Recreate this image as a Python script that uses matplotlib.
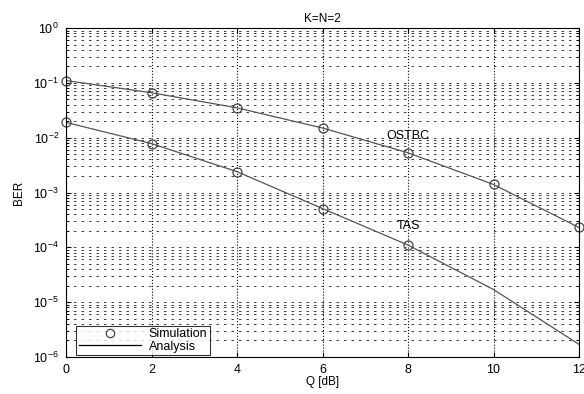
import matplotlib
matplotlib.use("Agg")
import matplotlib.pyplot as plt
import numpy as np
from matplotlib.ticker import LogLocator, NullFormatter

plt.rcParams['font.family'] = ['Liberation Sans', 'DejaVu Sans']
plt.rcParams['mathtext.fontset'] = 'custom'
plt.rcParams['mathtext.rm'] = 'Liberation Sans'

q_db = [0, 2, 4, 6, 8, 10, 12]
ostbc_sim = [0.11, 0.066, 0.035, 0.015, 0.0053, 0.0014, 0.00023]
ostbc_ana = [0.11, 0.066, 0.035, 0.015, 0.0053, 0.0014, 0.00023]
tas_q = [0, 2, 4, 6, 8]
tas_sim = [0.019, 0.0078, 0.0024, 0.00051, 0.00011]
tas_ana = [0.019, 0.0078, 0.0024, 0.00051, 0.00011, 1.7e-5, 1.7e-6]

fig = plt.figure(figsize=(5.84, 3.94), dpi=100)
ax = fig.add_axes([66/584, 1-357/394, (579-66)/584, (357-28)/394])

ax.semilogy(q_db, ostbc_ana, color='#555555', lw=0.9)
ax.semilogy(q_db, tas_ana, color='#555555', lw=0.9)
ax.semilogy(q_db, ostbc_sim, 'o', mfc='none', mec='#444444', ms=6.5, mew=0.9, clip_on=False)
ax.semilogy(tas_q, tas_sim, 'o', mfc='none', mec='#444444', ms=6.5, mew=0.9, clip_on=False)

# legend proxies
h1, = ax.plot([], [], 'o', mfc='none', mec='#444444', ms=6, mew=0.9, label='Simulation')
h2, = ax.plot([], [], '-', color='black', lw=0.9, label='Analysis')
leg = ax.legend(handles=[h1, h2], loc='lower left', bbox_to_anchor=(0.02, 0.005),
                fontsize=9, frameon=True,
                fancybox=False, edgecolor='black', borderaxespad=0.0,
                handlelength=5, borderpad=0.2, labelspacing=0.05, handletextpad=0.6)
leg.get_frame().set_linewidth(0.8)

ax.set_xlim(0, 12)
ax.set_ylim(1e-6, 1)
ax.set_xticks(q_db)
ax.yaxis.set_major_locator(LogLocator(base=10, numticks=10))
ax.yaxis.set_minor_locator(LogLocator(base=10, subs=np.arange(2, 10), numticks=20))
ax.yaxis.set_minor_formatter(NullFormatter())
ax.grid(True, which='major', axis='x', ls=':', color='black', lw=0.8)
ax.grid(True, which='both', axis='y', ls=(0, (3, 6)), color='#222222', lw=0.6)
ax.tick_params(which='both', direction='in', labelsize=9, top=True, right=True, pad=5)
ax.tick_params(which='minor', length=2)

ax.text(8, 0.0085, 'OSTBC', fontsize=9, ha='center', va='bottom')
ax.text(8, 0.00019, 'TAS', fontsize=9, ha='center', va='bottom')

ax.set_title('K=N=2', fontsize=8.5, pad=4)
ax.set_xlabel('Q [dB]', fontsize=8.5, labelpad=0)
ax.set_ylabel('BER', fontsize=8.5, labelpad=6)

fig.savefig('out.png', dpi=100)
